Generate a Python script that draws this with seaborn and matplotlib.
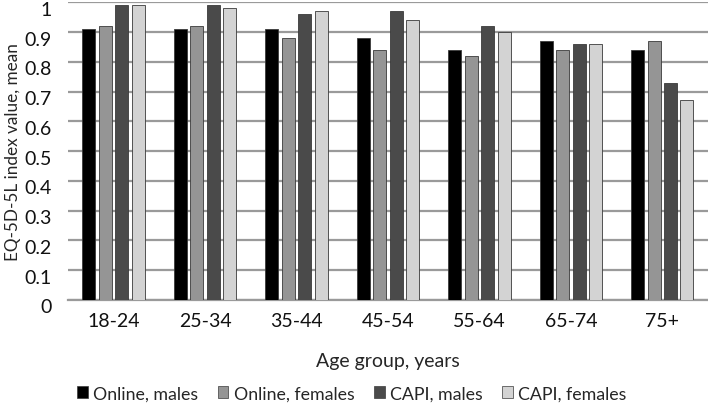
import pandas as pd
import matplotlib
matplotlib.use("Agg")
import matplotlib.pyplot as plt
import matplotlib.transforms as mtransforms
import seaborn as sns

age_groups = ["18-24", "25-34", "35-44", "45-54", "55-64", "65-74", "75+"]
series_names = ["Online, males", "Online, females", "CAPI, males", "CAPI, females"]
online_males = [0.91, 0.91, 0.91, 0.88, 0.84, 0.87, 0.84]
online_females = [0.92, 0.92, 0.88, 0.84, 0.82, 0.84, 0.87]
capi_males = [0.99, 0.99, 0.96, 0.97, 0.92, 0.86, 0.73]
capi_females = [0.99, 0.98, 0.97, 0.94, 0.90, 0.86, 0.67]

rows = []
for name, vals in zip(series_names, [online_males, online_females, capi_males, capi_females]):
    for age, v in zip(age_groups, vals):
        rows.append({"Age": age, "Group": name, "Value": v})
df = pd.DataFrame(rows)

sns.set_style("white")
plt.rcParams["font.family"] = ["Lato", "DejaVu Sans"]

palette = {"Online, males": "#000000", "Online, females": "#959595",
           "CAPI, males": "#4a4a4a", "CAPI, females": "#d3d3d3"}

fig = plt.figure(figsize=(7.08, 4.06), dpi=100)
ax = fig.add_axes([0.096, 0.259, 0.904, 0.733])

sns.barplot(data=df, x="Age", y="Value", hue="Group", hue_order=series_names,
            palette=palette, width=0.72, gap=0.21, ax=ax, legend=False,
            edgecolor="#3a3a3a", linewidth=0.6, zorder=3)

ax.set_ylim(0, 1)
ax.set_xlim(-0.5, len(age_groups) - 0.5)
ax.set_yticks([i / 10 for i in range(11)])
ax.set_yticklabels(["0"] + [f"{i/10:.1f}" for i in range(1, 10)] + ["1"])
ax.yaxis.grid(True, color="#9a9a9a", linewidth=1.6, zorder=0)
ax.set_axisbelow(True)
for s in ["top", "right", "left"]:
    ax.spines[s].set_visible(False)
ax.spines["bottom"].set_color("#9a9a9a")
ax.spines["bottom"].set_linewidth(1.6)
ax.tick_params(axis="both", length=0, labelsize=14, colors="#111111", pad=9)
ax.tick_params(axis="y", pad=12)

# shift y tick labels a bit below their grid lines, as in the original
offset = mtransforms.ScaledTranslation(0, -4 / 72, fig.dpi_scale_trans)
for lbl in ax.get_yticklabels():
    lbl.set_transform(lbl.get_transform() + offset)

ax.set_xlabel("Age group, years", fontsize=14, labelpad=16)
ax.set_ylabel("EQ-5D-5L index value, mean", fontsize=12.3, labelpad=2)

handles = [plt.Rectangle((0, 0), 1, 1, facecolor=palette[n], edgecolor="#3a3a3a", linewidth=0.5)
           for n in series_names]
fig.legend(handles, series_names, loc="lower center", bbox_to_anchor=(0.497, -0.03), ncol=4,
           frameon=False, fontsize=12.8, handlelength=0.6, handleheight=0.6,
           handletextpad=0.3, columnspacing=1.1)

fig.savefig("out.png", dpi=100)
